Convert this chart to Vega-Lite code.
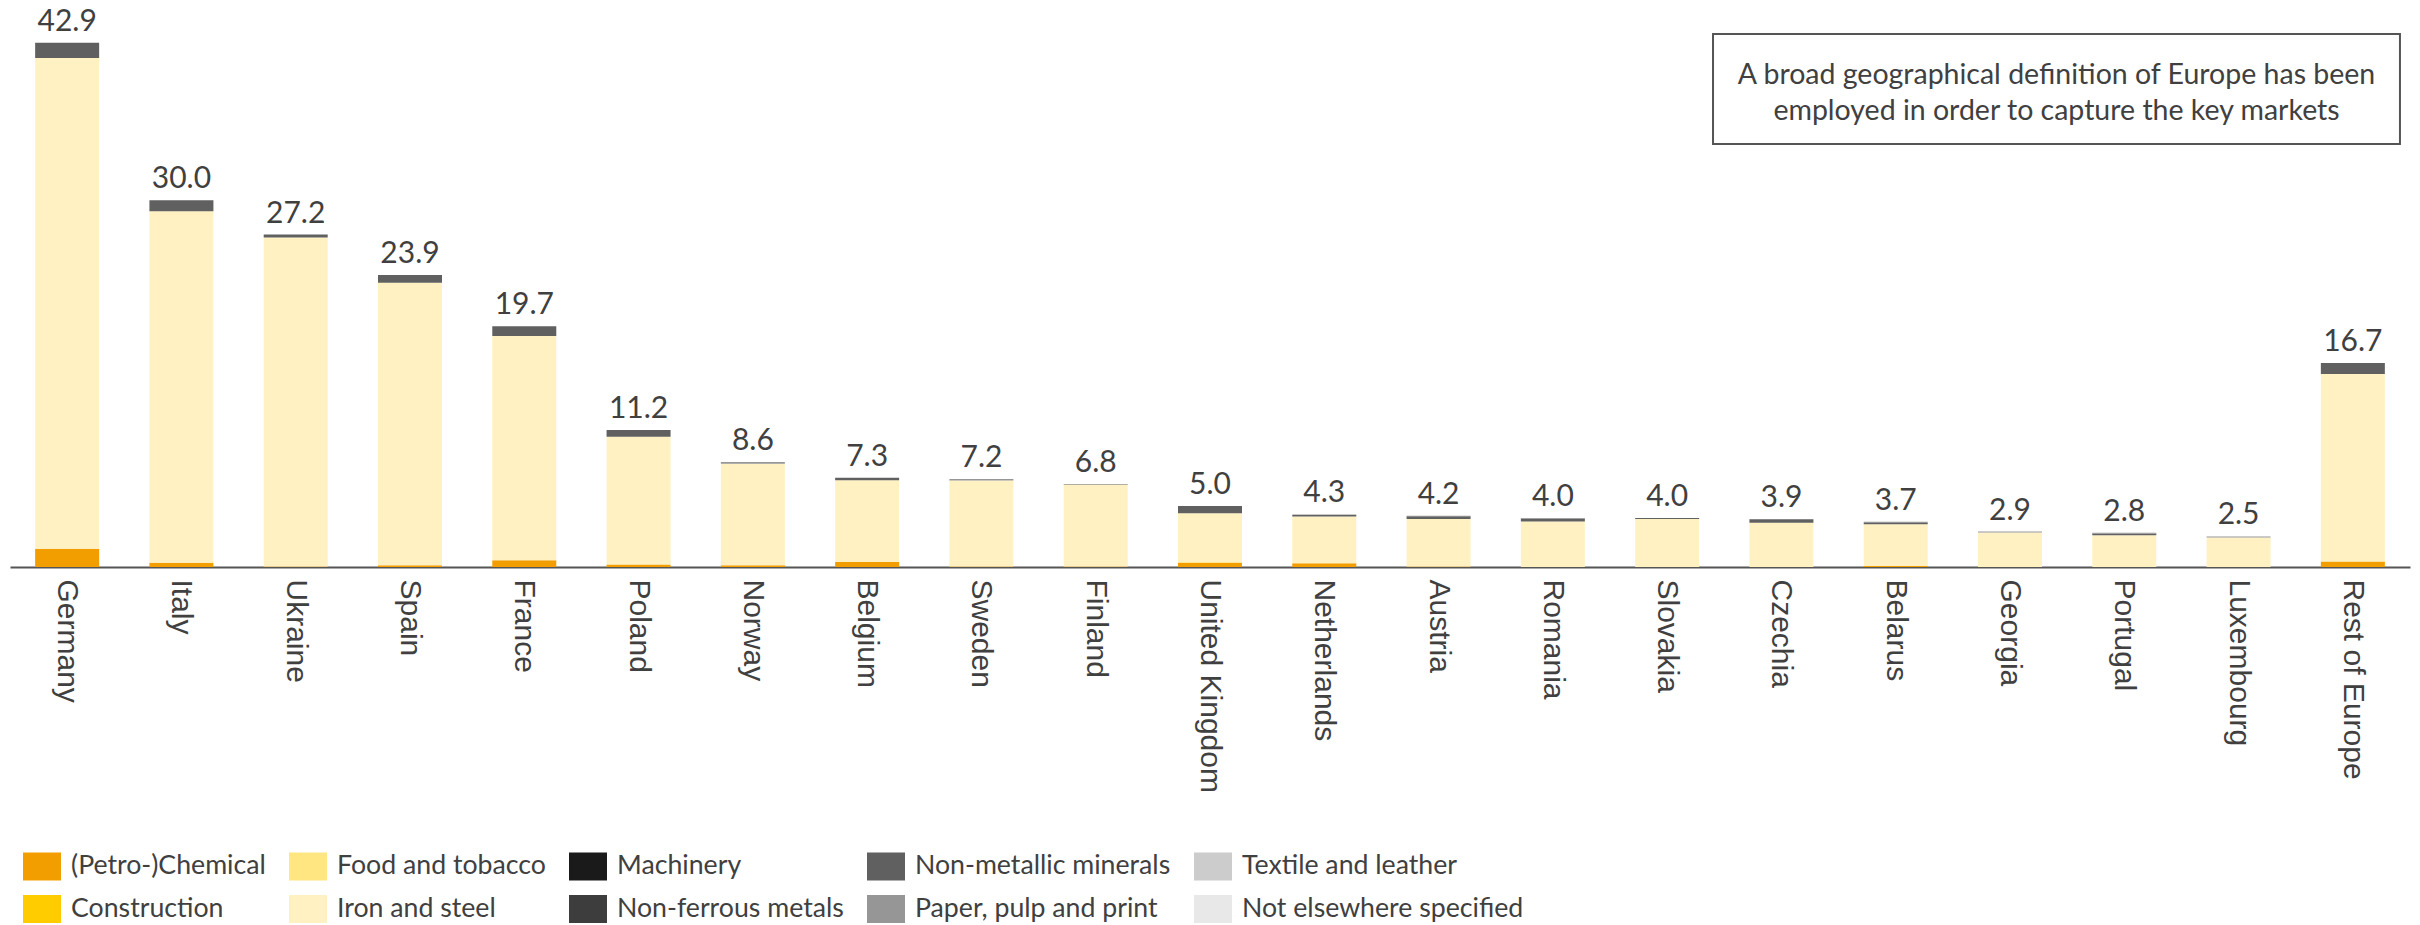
{
  "$schema": "https://vega.github.io/schema/vega-lite/v6.json",
  "width": 2400,
  "height": 550,
  "autosize": {"type": "none"},
  "padding": {"left": 10, "top": 17, "right": 10, "bottom": 358},
  "background": "white",
  "config": {"view": {"stroke": null}, "font": "Lato"},
  "datasets": {
    "sectors": [
      {"country": "Germany", "sector": "(Petro-)Chemical", "value": 1.5},
      {"country": "Germany", "sector": "Iron and steel", "value": 40.15},
      {"country": "Germany", "sector": "Non-metallic minerals", "value": 1.25},
      {"country": "Italy", "sector": "(Petro-)Chemical", "value": 0.35},
      {"country": "Italy", "sector": "Iron and steel", "value": 28.75},
      {"country": "Italy", "sector": "Non-metallic minerals", "value": 0.9},
      {"country": "Ukraine", "sector": "(Petro-)Chemical", "value": 0.05},
      {"country": "Ukraine", "sector": "Iron and steel", "value": 26.9},
      {"country": "Ukraine", "sector": "Non-metallic minerals", "value": 0.25},
      {"country": "Spain", "sector": "(Petro-)Chemical", "value": 0.15},
      {"country": "Spain", "sector": "Iron and steel", "value": 23.1},
      {"country": "Spain", "sector": "Non-metallic minerals", "value": 0.65},
      {"country": "France", "sector": "(Petro-)Chemical", "value": 0.55},
      {"country": "France", "sector": "Iron and steel", "value": 18.35},
      {"country": "France", "sector": "Non-metallic minerals", "value": 0.8},
      {"country": "Poland", "sector": "(Petro-)Chemical", "value": 0.2},
      {"country": "Poland", "sector": "Iron and steel", "value": 10.45},
      {"country": "Poland", "sector": "Non-metallic minerals", "value": 0.55},
      {"country": "Norway", "sector": "(Petro-)Chemical", "value": 0.15},
      {"country": "Norway", "sector": "Iron and steel", "value": 8.3},
      {"country": "Norway", "sector": "Paper, pulp and print", "value": 0.15},
      {"country": "Belgium", "sector": "(Petro-)Chemical", "value": 0.4},
      {"country": "Belgium", "sector": "Iron and steel", "value": 6.7},
      {"country": "Belgium", "sector": "Non-metallic minerals", "value": 0.2},
      {"country": "Sweden", "sector": "(Petro-)Chemical", "value": 0.05},
      {"country": "Sweden", "sector": "Iron and steel", "value": 7.03},
      {"country": "Sweden", "sector": "Paper, pulp and print", "value": 0.12},
      {"country": "Finland", "sector": "(Petro-)Chemical", "value": 0.05},
      {"country": "Finland", "sector": "Iron and steel", "value": 6.7},
      {"country": "Finland", "sector": "Non-metallic minerals", "value": 0.05},
      {"country": "United Kingdom", "sector": "(Petro-)Chemical", "value": 0.35},
      {"country": "United Kingdom", "sector": "Food and tobacco", "value": 0.05},
      {"country": "United Kingdom", "sector": "Iron and steel", "value": 4.0},
      {"country": "United Kingdom", "sector": "Non-metallic minerals", "value": 0.6},
      {"country": "Netherlands", "sector": "(Petro-)Chemical", "value": 0.3},
      {"country": "Netherlands", "sector": "Iron and steel", "value": 3.83},
      {"country": "Netherlands", "sector": "Non-metallic minerals", "value": 0.12},
      {"country": "Netherlands", "sector": "Paper, pulp and print", "value": 0.05},
      {"country": "Austria", "sector": "(Petro-)Chemical", "value": 0.05},
      {"country": "Austria", "sector": "Iron and steel", "value": 3.88},
      {"country": "Austria", "sector": "Non-metallic minerals", "value": 0.22},
      {"country": "Austria", "sector": "Paper, pulp and print", "value": 0.05},
      {"country": "Romania", "sector": "Iron and steel", "value": 3.72},
      {"country": "Romania", "sector": "Non-metallic minerals", "value": 0.25},
      {"country": "Romania", "sector": "Paper, pulp and print", "value": 0.03},
      {"country": "Slovakia", "sector": "Iron and steel", "value": 3.92},
      {"country": "Slovakia", "sector": "Non-metallic minerals", "value": 0.08},
      {"country": "Czechia", "sector": "Iron and steel", "value": 3.62},
      {"country": "Czechia", "sector": "Non-metallic minerals", "value": 0.28},
      {"country": "Belarus", "sector": "(Petro-)Chemical", "value": 0.08},
      {"country": "Belarus", "sector": "Iron and steel", "value": 3.42},
      {"country": "Belarus", "sector": "Non-metallic minerals", "value": 0.1},
      {"country": "Belarus", "sector": "Paper, pulp and print", "value": 0.1},
      {"country": "Georgia", "sector": "Iron and steel", "value": 2.82},
      {"country": "Georgia", "sector": "Paper, pulp and print", "value": 0.08},
      {"country": "Portugal", "sector": "Iron and steel", "value": 2.6},
      {"country": "Portugal", "sector": "Non-metallic minerals", "value": 0.15},
      {"country": "Portugal", "sector": "Paper, pulp and print", "value": 0.05},
      {"country": "Luxembourg", "sector": "Iron and steel", "value": 2.42},
      {"country": "Luxembourg", "sector": "Paper, pulp and print", "value": 0.08},
      {"country": "Rest of Europe", "sector": "(Petro-)Chemical", "value": 0.45},
      {"country": "Rest of Europe", "sector": "Iron and steel", "value": 15.35},
      {"country": "Rest of Europe", "sector": "Non-metallic minerals", "value": 0.9}
    ],
    "totals": [
      {"country": "Germany", "total": 42.9},
      {"country": "Italy", "total": 30.0},
      {"country": "Ukraine", "total": 27.2},
      {"country": "Spain", "total": 23.9},
      {"country": "France", "total": 19.7},
      {"country": "Poland", "total": 11.2},
      {"country": "Norway", "total": 8.6},
      {"country": "Belgium", "total": 7.3},
      {"country": "Sweden", "total": 7.2},
      {"country": "Finland", "total": 6.8},
      {"country": "United Kingdom", "total": 5.0},
      {"country": "Netherlands", "total": 4.3},
      {"country": "Austria", "total": 4.2},
      {"country": "Romania", "total": 4.0},
      {"country": "Slovakia", "total": 4.0},
      {"country": "Czechia", "total": 3.9},
      {"country": "Belarus", "total": 3.7},
      {"country": "Georgia", "total": 2.9},
      {"country": "Portugal", "total": 2.8},
      {"country": "Luxembourg", "total": 2.5},
      {"country": "Rest of Europe", "total": 16.7}
    ],
    "notes": [
      {"note": "A broad geographical definition of Europe has been\nemployed in order to capture the key markets"}
    ]
  },
  "layer": [
    {
      "data": {"name": "sectors"},
      "mark": {"type": "bar"},
      "encoding": {
        "x": {
          "field": "country", "type": "nominal",
          "scale": {
            "domain": ["Germany", "Italy", "Ukraine", "Spain", "France", "Poland", "Norway", "Belgium", "Sweden", "Finland", "United Kingdom", "Netherlands", "Austria", "Romania", "Slovakia", "Czechia", "Belarus", "Georgia", "Portugal", "Luxembourg", "Rest of Europe"],
            "paddingInner": 0.44, "paddingOuter": 0.22
          },
          "axis": {
            "title": null, "labelAngle": 90, "labelFont": "Liberation Sans", "labelFontSize": 30,
            "labelColor": "#404040", "ticks": false, "domainColor": "#555555", "domainWidth": 2,
            "labelPadding": 12, "labelLimit": 0, "grid": false
          }
        },
        "y": {
          "field": "value", "type": "quantitative", "aggregate": "sum", "stack": "zero",
          "scale": {"domain": [0, 45], "nice": false, "zero": true},
          "axis": null
        },
        "color": {
          "field": "sector", "type": "nominal",
          "scale": {
            "domain": ["(Petro-)Chemical", "Food and tobacco", "Machinery", "Non-metallic minerals", "Textile and leather", "Construction", "Iron and steel", "Non-ferrous metals", "Paper, pulp and print", "Not elsewhere specified"],
            "range": ["#F29E00", "#FFE680", "#1A1A1A", "#606060", "#CCCCCC", "#FFCC00", "#FFF1C2", "#3D3D3D", "#969696", "#E8E8E8"]
          },
          "legend": {
            "title": null, "orient": "none", "legendX": 13, "legendY": 830,
            "direction": "horizontal", "columns": 5, "padding": 0,
            "symbolType": "M-1,-0.737H1V0.737H-1Z", "symbolSize": 1444, "symbolStrokeWidth": 0, "symbolOpacity": 1,
            "labelFont": "Lato", "labelFontSize": 26.7, "labelColor": "#404040", "labelOffset": 10, "labelLimit": 0,
            "columnPadding": 23, "rowPadding": 9
          }
        },
        "order": {"field": "sector", "sort": "ascending"}
      }
    },
    {
      "data": {"name": "totals"},
      "mark": {"type": "text", "font": "Lato", "fontSize": 30, "color": "#404040", "baseline": "alphabetic", "dy": -12},
      "encoding": {
        "x": {"field": "country", "type": "nominal"},
        "y": {"field": "total", "type": "quantitative"},
        "text": {"field": "total", "type": "quantitative", "format": ".1f"}
      }
    },
    {
      "data": {"name": "notes"},
      "mark": {"type": "rect", "fill": "white", "stroke": "#555555", "strokeWidth": 2},
      "encoding": {
        "x": {"datum": "Czechia", "type": "nominal", "bandPosition": -0.569},
        "x2": {"datum": "Rest of Europe", "bandPosition": 1.236},
        "y": {"datum": 43.6, "type": "quantitative"},
        "y2": {"datum": 34.6}
      }
    },
    {
      "data": {"name": "notes"},
      "mark": {"type": "text", "font": "Lato", "fontSize": 28.5, "color": "#404040", "lineBreak": "\n", "lineHeight": 36, "align": "center", "baseline": "middle"},
      "encoding": {
        "x": {"datum": "Georgia", "type": "nominal", "bandPosition": 1.227},
        "y": {"datum": 40.25, "type": "quantitative"},
        "text": {"field": "note", "type": "nominal"}
      }
    }
  ]
}
